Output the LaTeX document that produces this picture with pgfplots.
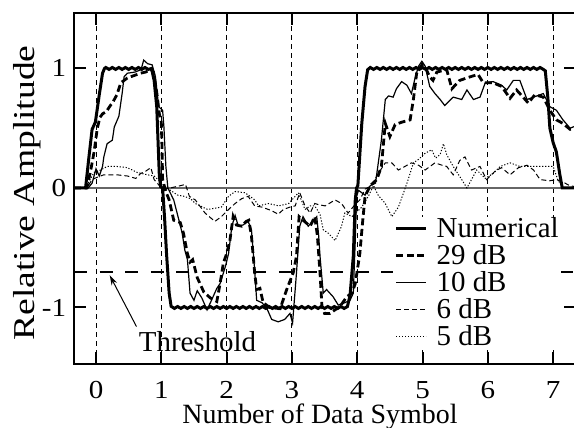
\documentclass[border=0pt]{standalone}
\usepackage{fontspec}
\setmainfont{Liberation Serif}
\usepackage{graphicx}
\usepackage{pgfplots}
\pgfplotsset{compat=1.18}
\usetikzlibrary{arrows.meta}

\begin{document}
\begin{tikzpicture}
\begin{axis}[
  scale only axis, width=251bp, height=175.5bp,
  xmin=-0.337, xmax=7.35, ymin=-1.473, ymax=1.464,
  xtick={0,1,2,3,4,5,6,7}, xticklabels={0,1,2,3,4,5,6,7},
  ytick={-1,0,1}, yticklabels={-1,0,1},
  tick align=inside, major tick length=6bp,
  tick style={line width=1bp, black},
  axis line style={line width=1bp},
  xmajorgrids,
  grid style={line width=0.5bp, black, dash pattern=on 2.5bp off 2bp},
  every tick label/.append style={font=\fontsize{13}{15}\selectfont},
  xticklabel style={inner ysep=0pt, yshift=-8.5bp, xscale=1.12},
  yticklabel style={xscale=1.12},
  xlabel={Number of Data Symbol},
  ylabel={\scalebox{1.3}[1.05]{Relative Amplitude}},
  xlabel style={font=\fontsize{14}{16}\selectfont, inner sep=0pt, at={(axis description cs:0.49,-0.169)}, anchor=base},
  ylabel style={font=\fontsize{14.5}{16}\selectfont, at={(axis description cs:-0.094,0.487)}, anchor=center},
  legend style={at={(rel axis cs:0.634,0.42)}, anchor=north west,
    draw=none, fill=white, inner xsep=1bp, inner ysep=1bp,
    font=\fontsize{14.5}{16}\selectfont, row sep=4bp, column sep=4.5bp,
    nodes={inner sep=0pt, text height=9.5bp, text depth=0bp}},
  legend cell align=left,
  legend image code/.code={\draw[#1] (0bp,0bp) -- (15bp,0bp);},
]
% zero line
\addplot[forget plot, black!60, line width=0.6bp] coordinates {(-0.337,0) (7.35,0)};

% Numerical
\addplot[black, line width=1.5bp] coordinates {
(-0.337,0) (-0.16,0) (-0.11,0.25) (-0.06,0.49) (-0.01,0.55) (0.05,0.78) (0.10,0.96) (0.13,1.00)
(0.15,1.008) (0.20,0.992) (0.25,1.008) (0.30,0.992) (0.35,1.008) (0.40,0.992) (0.45,1.008) (0.50,0.992)
(0.55,1.008) (0.60,0.992) (0.65,1.008) (0.70,0.992) (0.75,1.008) (0.80,0.992) (0.85,1.00)
(0.89,0.90) (0.93,0.68) (0.97,0.10) (0.99,0.01) (1.02,0) (1.05,-0.25) (1.08,-0.55) (1.12,-0.88) (1.15,-0.99)
(1.20,-1.008) (1.25,-0.992) (1.30,-1.008) (1.35,-0.992) (1.40,-1.008) (1.45,-0.992) (1.50,-1.008) (1.55,-0.992)
(1.60,-1.008) (1.65,-0.992) (1.70,-1.008) (1.75,-0.992) (1.80,-1.008) (1.85,-0.992) (1.90,-1.008) (1.95,-0.992)
(2.00,-1.008) (2.05,-0.992) (2.10,-1.008) (2.15,-0.992) (2.20,-1.008) (2.25,-0.992) (2.30,-1.008) (2.35,-0.992)
(2.40,-1.008) (2.45,-0.992) (2.50,-1.008) (2.55,-0.992) (2.60,-1.008) (2.65,-0.992) (2.70,-1.008) (2.75,-0.992)
(2.80,-1.008) (2.85,-0.992) (2.90,-1.008) (2.95,-0.992) (3.00,-1.008) (3.05,-0.992) (3.10,-1.008) (3.15,-0.992)
(3.20,-1.008) (3.25,-0.992) (3.30,-1.008) (3.35,-0.992) (3.40,-1.008) (3.45,-0.992) (3.50,-1.008) (3.55,-0.992)
(3.60,-1.008) (3.65,-0.992) (3.70,-1.008) (3.75,-0.992) (3.80,-1.008) (3.85,-0.992)
(3.89,-0.90) (3.94,-0.57) (3.97,-0.10) (3.99,0) (4.01,0.02) (4.07,0.54) (4.12,0.85) (4.16,0.99)
(4.20,1.008) (4.25,0.992) (4.30,1.008) (4.35,0.992) (4.40,1.008) (4.45,0.992) (4.50,1.008) (4.55,0.992)
(4.60,1.008) (4.65,0.992) (4.70,1.008) (4.75,0.992) (4.80,1.008) (4.85,0.992) (4.90,1.008) (4.95,0.992)
(5.00,1.008) (5.05,0.992) (5.10,1.008) (5.15,0.992) (5.20,1.008) (5.25,0.992) (5.30,1.008) (5.35,0.992)
(5.40,1.008) (5.45,0.992) (5.50,1.008) (5.55,0.992) (5.60,1.008) (5.65,0.992) (5.70,1.008) (5.75,0.992)
(5.80,1.008) (5.85,0.992) (5.90,1.008) (5.95,0.992) (6.00,1.008) (6.05,0.992) (6.10,1.008) (6.15,0.992)
(6.20,1.008) (6.25,0.992) (6.30,1.008) (6.35,0.992) (6.40,1.008) (6.45,0.992) (6.50,1.008) (6.55,0.992)
(6.60,1.008) (6.65,0.992) (6.70,1.008) (6.75,0.992) (6.80,1.008) (6.85,0.992)
(6.88,0.98) (6.92,0.75) (6.95,0.50) (7.00,0.38) (7.05,0.30) (7.10,0.12) (7.14,0) (7.35,0)
};

% 29 dB
\addplot[black, line width=1.4bp, dash pattern=on 3.5bp off 1.8bp] coordinates {
(-0.337,0) (-0.14,0) (-0.08,0.15) (-0.03,0.30) (0.02,0.50) (0.06,0.59) (0.10,0.62) (0.16,0.64)
(0.22,0.69) (0.25,0.71) (0.32,0.78) (0.38,0.88) (0.48,0.92) (0.58,0.94) (0.68,0.96) (0.76,0.97)
(0.84,0.99) (0.88,0.97) (0.93,0.80) (0.97,0.62) (1.00,0.55) (1.01,0.35) (1.02,0.07) (1.07,-0.03)
(1.12,-0.10) (1.19,-0.27) (1.29,-0.29) (1.34,-0.38) (1.40,-0.55) (1.44,-0.62) (1.48,-0.60)
(1.55,-0.75) (1.65,-0.87) (1.75,-0.92) (1.85,-0.95) (1.90,-0.80) (1.95,-0.63) (2.00,-0.55)
(2.05,-0.44) (2.10,-0.24) (2.15,-0.31) (2.23,-0.32) (2.30,-0.28) (2.34,-0.27) (2.38,-0.40)
(2.43,-0.71) (2.46,-0.85) (2.51,-0.84) (2.56,-0.96) (2.66,-1.00) (2.82,-1.01) (2.92,-0.85)
(3.02,-0.71) (3.07,-0.57) (3.11,-0.24) (3.17,-0.27) (3.28,-0.32) (3.35,-0.24) (3.39,-0.40)
(3.43,-0.71) (3.46,-0.99) (3.50,-1.05) (3.58,-1.05) (3.66,-1.02) (3.74,-0.99) (3.84,-0.91)
(3.92,-0.88) (3.97,-0.80) (4.04,-0.55) (4.08,-0.30) (4.12,-0.07) (4.20,0.02) (4.30,0.07)
(4.37,0.18) (4.43,0.54) (4.50,0.43) (4.58,0.53) (4.68,0.55) (4.81,0.57) (4.86,0.74) (4.91,0.96)
(4.99,1.03) (5.05,1.00) (5.11,0.93) (5.16,0.90) (5.22,0.97) (5.37,0.99) (5.45,0.83) (5.50,0.86)
(5.57,0.90) (5.73,0.93) (5.85,0.95) (5.93,0.88) (6.08,0.88) (6.21,0.85) (6.34,0.75) (6.44,0.82)
(6.54,0.76) (6.62,0.71) (6.72,0.78) (6.85,0.76) (6.95,0.65) (7.05,0.57) (7.15,0.54) (7.26,0.49)
(7.35,0.50)
};

% 10 dB
\addplot[black, line width=0.6bp] coordinates {
(-0.337,0) (-0.12,0) (-0.06,0.04) (0.00,0.16) (0.05,0.10) (0.10,0.18) (0.12,0.26) (0.17,0.37)
(0.25,0.40) (0.28,0.51) (0.35,0.60) (0.40,0.79) (0.43,0.93) (0.48,0.96) (0.60,0.97) (0.69,0.99)
(0.73,1.07) (0.79,1.04) (0.86,1.03) (0.91,0.93) (0.96,0.68) (1.02,0.65) (1.04,0.51) (1.07,0.18)
(1.10,0.00) (1.19,-0.10) (1.27,-0.27) (1.32,-0.38) (1.36,-0.52) (1.40,-0.60) (1.44,-0.88)
(1.50,-0.94) (1.55,-0.86) (1.62,-0.92) (1.70,-1.02) (1.76,-0.95) (1.85,-0.84) (1.90,-0.80)
(1.98,-0.66) (2.03,-0.55) (2.08,-0.32) (2.13,-0.23) (2.18,-0.32) (2.25,-0.31) (2.33,-0.28)
(2.38,-0.35) (2.43,-0.69) (2.46,-0.94) (2.54,-0.96) (2.61,-1.00) (2.69,-1.10) (2.79,-1.12)
(2.89,-1.10) (2.97,-1.05) (3.01,-1.13) (3.07,-0.71) (3.12,-0.32) (3.17,-0.24) (3.25,-0.32)
(3.33,-0.27) (3.38,-0.24) (3.41,-0.40) (3.43,-0.57) (3.48,-0.88) (3.53,-0.85) (3.63,-0.91)
(3.71,-0.98) (3.81,-0.96) (3.89,-0.94) (3.94,-0.88) (3.97,-0.44) (3.99,-0.07) (4.02,-0.02)
(4.12,-0.06) (4.20,0.02) (4.28,0.04) (4.37,0.40) (4.43,0.74) (4.48,0.77) (4.55,0.76) (4.60,0.83)
(4.68,0.89) (4.76,0.86) (4.83,0.79) (4.89,0.93) (4.94,1.02) (4.99,1.06) (5.04,1.02) (5.11,0.85)
(5.19,0.79) (5.27,0.74) (5.34,0.69) (5.47,0.76) (5.60,0.74) (5.68,0.82) (5.78,0.74) (5.88,0.76)
(5.96,0.88) (6.08,0.89) (6.21,0.86) (6.29,0.82) (6.39,0.90) (6.49,0.90) (6.60,0.74) (6.70,0.76)
(6.85,0.79) (6.95,0.68) (7.05,0.65) (7.15,0.57) (7.26,0.50) (7.35,0.52)
};

% 6 dB
\addplot[black, line width=0.5bp, dash pattern=on 2.5bp off 1.5bp] coordinates {
(-0.337,0) (-0.14,0) (-0.06,0.07) (0.02,0.09) (0.07,0.10) (0.12,0.11) (0.32,0.11) (0.48,0.10)
(0.61,0.08) (0.68,0.12) (0.76,0.14) (0.84,0.17) (0.89,0.07) (0.97,0.02) (1.04,-0.01) (1.14,0.00)
(1.30,0.02) (1.37,0.03) (1.43,-0.07) (1.52,-0.10) (1.67,-0.21) (1.82,-0.28) (1.92,-0.24)
(2.03,-0.18) (2.13,-0.13) (2.23,-0.09) (2.33,-0.07) (2.43,-0.15) (2.54,-0.16) (2.69,-0.19)
(2.79,-0.22) (2.87,-0.18) (2.97,-0.16) (3.05,-0.15) (3.12,-0.04) (3.20,-0.15) (3.28,-0.21)
(3.35,-0.13) (3.41,-0.14) (3.51,-0.15) (3.66,-0.10) (3.76,-0.13) (3.86,-0.21) (3.95,-0.15)
(4.04,-0.10) (4.12,-0.01) (4.22,0.02) (4.32,0.12) (4.43,0.21) (4.53,0.21) (4.63,0.15) (4.73,0.18)
(4.83,0.21) (4.94,0.19) (5.04,0.15) (5.19,0.21) (5.30,0.19) (5.37,0.18) (5.47,0.11) (5.57,0.23)
(5.65,0.26) (5.75,0.15) (5.88,0.18) (5.98,0.07) (6.11,0.14) (6.21,0.17) (6.34,0.11) (6.47,0.17)
(6.60,0.19) (6.70,0.15) (6.80,0.07) (6.95,0.06) (7.05,0.07) (7.15,0.05) (7.25,0.02) (7.35,0.01)
};

% 5 dB
\addplot[black, line width=0.5bp, dash pattern=on 0.6bp off 0.9bp] coordinates {
(-0.337,0) (-0.14,0) (-0.12,0.04) (-0.03,0.13) (0.07,0.15) (0.17,0.18) (0.32,0.18) (0.48,0.17)
(0.63,0.13) (0.79,0.11) (0.89,0.10) (0.97,0.06) (1.04,0.02) (1.14,-0.02) (1.25,-0.06) (1.35,-0.07)
(1.45,-0.09) (1.52,-0.13) (1.71,-0.18) (1.92,-0.16) (2.03,-0.07) (2.13,-0.03) (2.28,-0.04)
(2.36,-0.07) (2.43,-0.10) (2.49,-0.15) (2.64,-0.13) (2.80,-0.15) (2.95,-0.13) (3.05,-0.07)
(3.10,-0.04) (3.20,-0.18) (3.28,-0.15) (3.35,-0.15) (3.43,-0.22) (3.48,-0.35) (3.56,-0.38)
(3.66,-0.44) (3.76,-0.32) (3.81,-0.21) (3.92,-0.24) (4.07,-0.16) (4.17,-0.07) (4.25,0.02)
(4.32,-0.06) (4.43,-0.13) (4.53,-0.24) (4.63,-0.16) (4.71,-0.04) (4.78,0.07) (4.86,0.21)
(4.94,0.24) (5.04,0.29) (5.14,0.32) (5.20,0.25) (5.27,0.28) (5.32,0.37) (5.37,0.28) (5.47,0.18)
(5.60,0.07) (5.68,0.00) (5.83,0.15) (5.96,0.08) (6.08,0.12) (6.19,0.18) (6.34,0.21) (6.49,0.18)
(6.70,0.18) (6.85,0.18) (7.00,0.18) (7.07,0.07) (7.15,0.00) (7.35,0.00)
};

% threshold
\addplot[forget plot, black, line width=1.1bp, dash pattern=on 6.5bp off 6.3bp] coordinates {(-0.337,-0.7) (7.35,-0.7)};

\legend{Numerical,29 dB,10 dB,6 dB,5 dB}

\node[anchor=base, font=\fontsize{14.5}{16}\selectfont] at (axis cs:1.554,-1.372) {Threshold};
\draw[line width=0.5bp, -{Stealth[length=5bp, width=3bp]}] (axis cs:0.62,-1.16) -- (axis cs:0.21,-0.73);
\end{axis}
\pgfresetboundingbox
\path ([xshift=-37bp, yshift=-32bp]current axis.south west) rectangle ([xshift=-1bp, yshift=6.5bp]current axis.north east);
\end{tikzpicture}
\end{document}
